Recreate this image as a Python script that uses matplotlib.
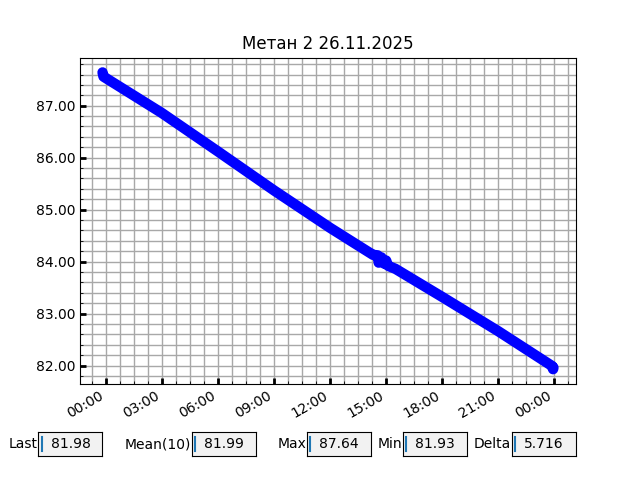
import datetime as dt
import matplotlib
matplotlib.use('Agg')
import matplotlib.pyplot as plt
import matplotlib.dates as mdates
from matplotlib.ticker import FormatStrFormatter

# hours relative to 26.11.2025 00:00
Hours = [-0.17, -0.12, 3.0, 6.0, 9.0, 12.0, 13.9, 14.3, 14.55, 14.6, 14.75,
         14.9, 15.0, 15.1, 15.5, 18.0, 21.0, 23.88, 23.93, 23.95]
Metan = [87.64, 87.56, 86.86, 86.12, 85.37, 84.65, 84.22, 84.13, 84.12, 83.98,
         84.08, 83.96, 84.02, 83.92, 83.86, 83.32, 82.66, 81.99, 81.93, 81.96]

BoxLabels = ['Last', 'Mean(10)', 'Max', 'Min', 'Delta']
BoxValues = ['81.98', '81.99', '87.64', '81.93', '5.716']
BoxLeft = [0.06, 0.30, 0.48, 0.63, 0.80]

t0 = dt.datetime(2025, 11, 26, 0, 0)
Times = [t0 + dt.timedelta(hours=h) for h in Hours]

fig = plt.figure(figsize=(6.4, 4.8), dpi=100)
ax = fig.add_subplot(111)

ax.plot(Times, Metan, '-', color='blue', lw=7.5, solid_capstyle='round',
        solid_joinstyle='round')

ax.set_title('Метан 2 26.11.2025')
ax.xaxis.set_major_locator(mdates.HourLocator(byhour=range(0, 24, 3)))
ax.xaxis.set_major_formatter(mdates.DateFormatter('%H:%M'))
ax.yaxis.set_major_formatter(FormatStrFormatter('%.2f'))
ax.minorticks_on()
ax.grid(which='both', color='#a8a8a8', lw=1.0)
ax.set_axisbelow(True)
ax.tick_params(which='major', direction='in', length=4, width=2)
ax.tick_params(which='minor', direction='in', length=2, width=0.6)
fig.autofmt_xdate(bottom=0.2, rotation=30, ha='right')

for lab, val, left in zip(BoxLabels, BoxValues, BoxLeft):
    bx = fig.add_axes([left, 0.05, 0.1, 0.05])
    bx.set_facecolor('0.95')
    bx.set_xticks([])
    bx.set_yticks([])
    bx.set_xlim(0, 1)
    bx.set_ylim(0, 1)
    bx.text(-0.01, 0.5, lab, ha='right', va='center', fontsize=10,
            transform=bx.transAxes)
    bx.text(0.19, 0.5, val, ha='left', va='center', fontsize=10)
    bx.plot([0.05, 0.05], [0.22, 0.78], color='C0', lw=1.5)

fig.savefig('out.png', dpi=100)
